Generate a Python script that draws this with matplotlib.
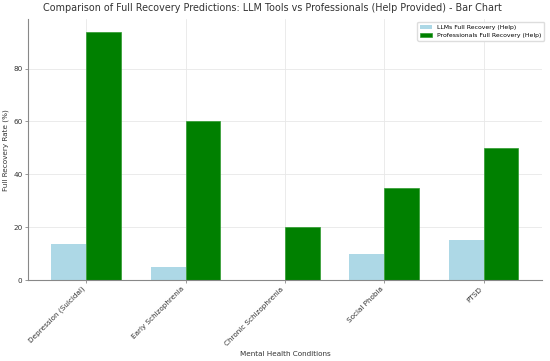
import matplotlib.pyplot as plt
import numpy as np

# data
conditions = ["Depression (Suicidal)", "Early Schizophrenia", "Chronic Schizophrenia",
              "Social Phobia", "PTSD"]
llm_recovery = [13.5, 5, 0, 10, 15]
pro_recovery = [94, 60, 20, 35, 50]

x = np.arange(len(conditions))
width = 0.35

fig = plt.figure(figsize=(5.5, 3.61), dpi=100)
ax = fig.add_axes([0.051, 0.224, 0.934, 0.723])

ax.bar(x - width/2, llm_recovery, width, color="lightblue", label="LLMs Full Recovery (Help)", zorder=2)
ax.bar(x + width/2, pro_recovery, width, color="green", edgecolor="#2e9a2e", linewidth=0.5,
       label="Professionals Full Recovery (Help)", zorder=2)

fig.suptitle("Comparison of Full Recovery Predictions: LLM Tools vs Professionals (Help Provided) - Bar Chart",
             fontsize=6.9, color="#333333", x=0.495, y=0.992)
ax.set_xlabel("Mental Health Conditions", fontsize=5.2, color="#333333", labelpad=3)
ax.set_ylabel("Full Recovery Rate (%)", fontsize=5.2, color="#333333", labelpad=3)
ax.set_xticks(x)
ax.set_xticklabels(conditions, rotation=45, ha="right", fontsize=5.2, color="#333333")
ax.tick_params(axis="y", labelsize=5.2, labelcolor="#333333", pad=2)
ax.tick_params(axis="x", pad=2)
ax.tick_params(axis="both", length=2, width=0.6, color="#888888")

ax.grid(True, color="#e8e8e8", linewidth=0.6, zorder=0)
ax.set_axisbelow(True)
for s in ["top", "right"]:
    ax.spines[s].set_visible(False)
for s in ["left", "bottom"]:
    ax.spines[s].set_color("#888888")
    ax.spines[s].set_linewidth(0.8)

ax.legend(loc="upper right", fontsize=4.4, frameon=True, edgecolor="#dddddd", framealpha=1,
          bbox_to_anchor=(1.01, 1.0))

fig.savefig("out.png", dpi=100)
